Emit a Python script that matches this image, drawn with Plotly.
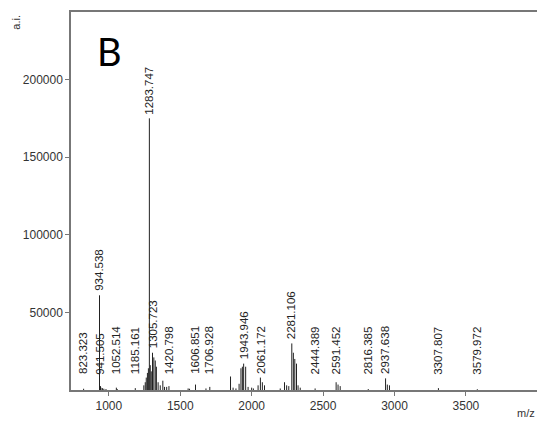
import plotly.graph_objects as go

# Labelled peaks: m/z and intensity (a.i.)
label_mz = [823.323, 934.538, 941.505, 1052.514, 1185.161, 1283.747, 1305.723,
            1420.798, 1606.851, 1706.928, 1943.946, 2061.172, 2281.106, 2444.389,
            2591.452, 2816.385, 2937.638, 3307.807, 3579.972]
label_int = [800, 61000, 2500, 1500, 1200, 175000, 24000,
             2500, 3500, 2000, 17000, 8000, 30000, 1000,
             5000, 600, 7500, 1200, 500]

# Other (unlabelled) peaks in the spectrum
other_mz = [945, 955, 965, 980, 1060,
            1245, 1255, 1262, 1270, 1277, 1290, 1297, 1315, 1325, 1333, 1345,
            1360, 1378, 1390, 1405, 1555, 1565, 1680,
            1852, 1870, 1890, 1912, 1925, 1935, 1958, 1975, 2000, 2012,
            2045, 2075, 2090, 2200, 2230, 2245, 2260, 2292, 2302, 2314,
            2325, 2340, 2605, 2620, 2950, 2965]
other_int = [1500, 1200, 800, 600, 500,
             3000, 5000, 8000, 11000, 14000, 16000, 12000, 21000, 19000, 15000, 5000,
             3000, 6000, 2000, 2000, 1000, 800, 1000,
             8700, 1500, 1000, 4000, 14000, 15000, 15000, 2000, 1500, 1000,
             3000, 5000, 3000, 1000, 5000, 3000, 2500, 24000, 20000, 17000,
             3000, 1500, 3500, 2500, 3500, 3000]

x_ticks = [1000, 1500, 2000, 2500, 3000, 3500]
y_ticks = [50000, 100000, 150000, 200000]

# Build the stick spectrum as vertical segments separated by gaps
all_mz = label_mz + other_mz
all_int = label_int + other_int
xs, ys = [], []
for m, v in zip(all_mz, all_int):
    xs += [m, m, None]
    ys += [0, v, None]

fig = go.Figure()
fig.add_trace(go.Scatter(x=xs, y=ys, mode="lines",
                         line=dict(color="#222222", width=1),
                         hoverinfo="skip", showlegend=False))

# Peak labels, rotated, sitting just above each peak (with a minimum lift)
label_floor = 7500
for m, v in zip(label_mz, label_int):
    fig.add_annotation(x=m, y=max(v, label_floor), text=f"{m:.3f}",
                       textangle=-90, showarrow=False,
                       xanchor="center", yanchor="bottom", yshift=2,
                       font=dict(family="Liberation Sans, Arial", size=11.5,
                                 color="#222222"))

fig.add_annotation(xref="paper", yref="paper", x=0.052, y=0.963,
                   text="B", showarrow=False, xanchor="left", yanchor="top",
                   font=dict(family="Lato, Carlito, Calibri", size=38,
                             color="#000000"))

fig.add_annotation(xref="paper", yref="paper", x=-0.118, y=0.997,
                   text="a.i.", textangle=-90, showarrow=False,
                   xanchor="center", yanchor="top",
                   font=dict(family="Liberation Sans, Arial", size=11,
                             color="#333333"))

fig.add_annotation(xref="paper", yref="paper", x=1.0, y=-0.083,
                   text="m/z", showarrow=False,
                   xanchor="right", yanchor="bottom",
                   font=dict(family="Liberation Sans, Arial", size=11,
                             color="#333333"))

axis_font = dict(family="Liberation Sans, Arial", size=12, color="#333333")
fig.update_xaxes(range=[735, 3998], tickvals=x_ticks,
                 showgrid=False, zeroline=False,
                 showline=True, mirror=True, linecolor="#777777", linewidth=1.5,
                 ticks="outside", ticklen=4, tickcolor="#777777",
                 tickfont=axis_font)
fig.update_yaxes(range=[0, 243500], tickvals=y_ticks, tickformat="d",
                 showgrid=False, zeroline=False,
                 showline=True, linecolor="#777777", linewidth=1.5,
                 ticks="outside", ticklen=4, tickcolor="#777777",
                 tickfont=axis_font)

fig.update_layout(width=537, height=423,
                  margin=dict(l=71, r=0, t=12, b=33),
                  plot_bgcolor="white", paper_bgcolor="white")

fig.write_html("out.html")
